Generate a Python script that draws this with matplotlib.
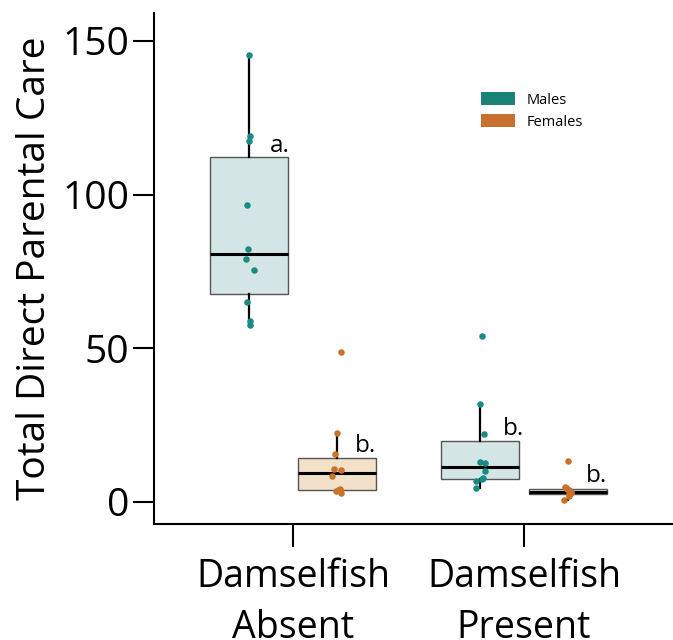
import numpy as np
import matplotlib.pyplot as plt
from matplotlib.patches import Patch

plt.rcParams["font.family"] = ["Open Sans", "DejaVu Sans"]

# Direct care scores per fish, by damselfish treatment and parent sex
groups = ["Damselfish\nAbsent", "Damselfish\nPresent"]
male_absent = [145.5, 119.0, 117.5, 96.6, 82.3, 79.0, 75.5, 65.0, 59.0, 57.6]
female_absent = [48.9, 22.3, 15.5, 10.7, 10.3, 8.4, 4.2, 4.0, 3.6, 2.9]
male_present = [54.0, 31.9, 22.2, 12.9, 12.7, 10.2, 7.7, 7.6, 6.9, 4.7]
female_present = [13.2, 4.8, 4.2, 3.9, 3.6, 3.2, 2.8, 2.6, 2.0, 0.5]

# small horizontal jitter (in x units) for the dots
jit_male_absent = [-0.002, 0.002, -0.002, -0.011, -0.006, -0.015, 0.019, -0.011, 0.002, 0.002]
jit_female_absent = [0.016, 0.0, -0.009, -0.013, 0.017, -0.022, 0.013, 0.004, -0.002, 0.017]
jit_male_present = [0.006, 0.0, 0.016, 0.0, 0.022, 0.019, 0.011, 0.009, -0.020, -0.016]
jit_female_present = [0.0, -0.013, -0.004, 0.006, 0.009, 0.013, 0.013, 0.004, 0.003, -0.019]

sig_letters = ["a.", "b.", "b.", "b."]

male_col = "#1b8a84"
female_col = "#c8722a"
male_fill = "#d4e5e5"
female_fill = "#f2e0c8"

fig = plt.figure(figsize=(6.73, 6.40), dpi=100)
ax = fig.add_axes([154 / 673, 1 - 524 / 640, 1 - 154 / 673, (524 - 13) / 640])

dodge = 0.19
width = 0.34
series = [
    (male_absent, jit_male_absent, 1 - dodge, male_col, male_fill),
    (female_absent, jit_female_absent, 1 + dodge, female_col, female_fill),
    (male_present, jit_male_present, 2 - dodge, male_col, male_fill),
    (female_present, jit_female_present, 2 + dodge, female_col, female_fill),
]

for vals, jit, pos, col, fill in series:
    ax.boxplot(
        vals, positions=[pos], widths=width, whis=1.5, showfliers=False,
        patch_artist=True, showcaps=False,
        boxprops=dict(facecolor=fill, edgecolor="#555555", linewidth=1.0),
        medianprops=dict(color="black", linewidth=2.2),
        whiskerprops=dict(color="black", linewidth=1.6),
        zorder=2,
    )
    ax.scatter(pos + np.array(jit), vals, s=22, color=col, zorder=3, linewidths=0)

# significance letters
letter_xy = [(0.90, 113.9), (1.268, 16.4), (1.908, 21.8), (2.268, 6.6)]
for (lx, ly), lab in zip(letter_xy, sig_letters):
    ax.text(lx, ly, lab, fontsize=17.5, ha="left", va="baseline")

ax.set_xlim(0.398, 2.645)
ax.set_ylim(-7.16, 159.1)
ax.set_xticks([1, 2])
ax.set_xticklabels(groups, fontsize=27, linespacing=1.45)
ax.set_yticks([0, 50, 100, 150])
ax.tick_params(axis="y", labelsize=28, length=15, width=1.5, pad=3)
ax.tick_params(axis="x", length=16.5, width=1.5, pad=8)
ax.set_ylabel("Total Direct Parental Care", fontsize=28, labelpad=6)

for side in ["top", "right"]:
    ax.spines[side].set_visible(False)
for side in ["left", "bottom"]:
    ax.spines[side].set_linewidth(1.5)

handles = [Patch(facecolor="#1a8378", edgecolor="none", label="Males"),
           Patch(facecolor="#c87030", edgecolor="none", label="Females")]
ax.legend(handles=handles, loc="upper left", bbox_to_anchor=(481 / 673, 1 - 92 / 640),
          bbox_transform=fig.transFigure, frameon=False, fontsize=10.5,
          handlelength=2.3, handleheight=1.0, handletextpad=0.8,
          labelspacing=0.45, borderpad=0, borderaxespad=0)

fig.savefig("out.png", dpi=100)
